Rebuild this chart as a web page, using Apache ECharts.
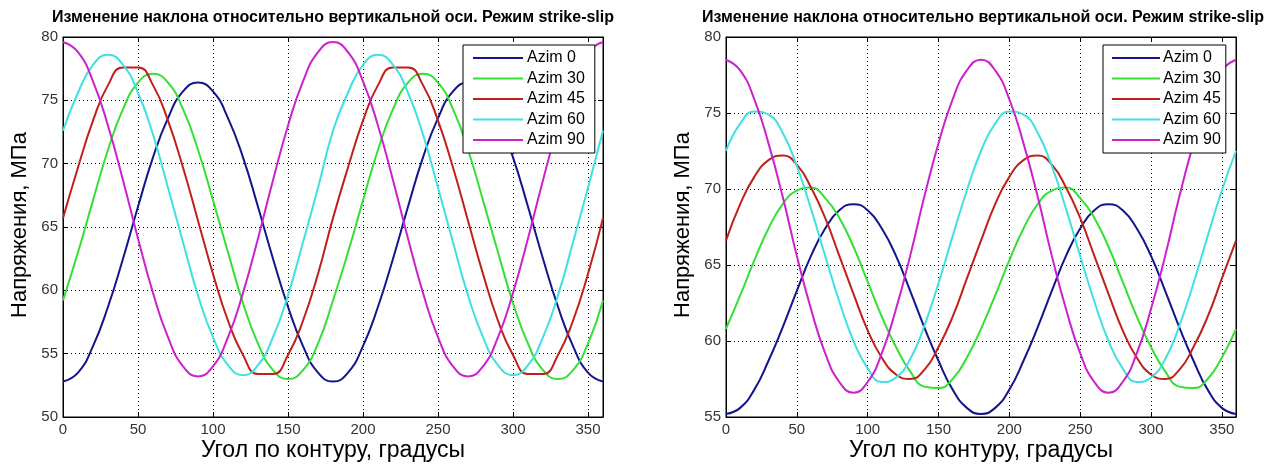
<!DOCTYPE html>
<html>
<head>
<meta charset="utf-8">
<script src="https://cdn.jsdelivr.net/npm/echarts@6/dist/echarts.min.js"></script>
<style>
  html, body { margin: 0; padding: 0; background: #fff; }
  #chart { width: 1268px; height: 464px; }
</style>
</head>
<body>
<div id="chart"></div>
<script>
// Angle along the borehole contour, degrees
const angles = [0,10,20,30,40,50,60,70,80,90,100,110,120,130,140,150,160,170,180,
  190,200,210,220,230,240,250,260,270,280,290,300,310,320,330,340,350,360];

const seriesNames = ['Azim 0', 'Azim 30', 'Azim 45', 'Azim 60', 'Azim 90'];
const seriesColors = ['#14148c', '#33e033', '#c0201c', '#40e0e0', '#cc22cc'];

// Left panel, stress in MPa
const leftAzim0  = [52.8,53.5,55.6,58.7,62.5,66.6,70.5,73.6,75.7,76.4,75.7,73.6,70.5,66.6,62.5,58.7,55.6,53.5,52.8,
  53.5,55.6,58.7,62.5,66.6,70.5,73.6,75.7,76.4,75.7,73.6,70.5,66.6,62.5,58.7,55.6,53.5,52.8];
const leftAzim30 = [59.2,63.0,67.1,71.1,74.3,76.4,77.1,76.4,74.3,71.1,67.1,63.0,59.0,55.8,53.7,53.0,53.7,55.8,59.2,
  63.0,67.1,71.1,74.3,76.4,77.1,76.4,74.3,71.1,67.1,63.0,59.0,55.8,53.7,53.0,53.7,55.8,59.2];
const leftAzim45 = [65.7,69.7,73.4,76.2,77.6,77.6,76.2,73.4,69.7,65.5,61.3,57.6,54.9,53.4,53.4,54.9,57.6,61.3,65.7,
  69.7,73.4,76.2,77.6,77.6,76.2,73.4,69.7,65.5,61.3,57.6,54.9,53.4,53.4,54.9,57.6,61.3,65.7];
const leftAzim60 = [72.6,75.6,77.8,78.6,77.8,75.6,72.3,68.1,63.8,59.6,56.3,54.1,53.3,54.1,56.3,59.6,63.8,68.1,72.6,
  75.6,77.8,78.6,77.8,75.6,72.3,68.1,63.8,59.6,56.3,54.1,53.3,54.1,56.3,59.6,63.8,68.1,72.6];
const leftAzim90 = [79.6,78.8,76.5,73.0,68.7,64.1,59.8,56.3,54.0,53.2,54.0,56.3,59.8,64.1,68.7,73.0,76.5,78.8,79.6,
  78.8,76.5,73.0,68.7,64.1,59.8,56.3,54.0,53.2,54.0,56.3,59.8,64.1,68.7,73.0,76.5,78.8,79.6];

// Right panel, stress in MPa
const rightAzim0  = [55.2,55.6,56.8,58.7,60.9,63.3,65.6,67.4,68.6,69.0,68.6,67.4,65.6,63.3,60.9,58.7,56.8,55.6,55.2,
  55.6,56.8,58.7,60.9,63.3,65.6,67.4,68.6,69.0,68.6,67.4,65.6,63.3,60.9,58.7,56.8,55.6,55.2];
const rightAzim30 = [60.8,63.0,65.3,67.4,69.0,69.9,70.1,69.4,68.1,66.2,63.9,61.6,59.6,58.0,57.0,56.9,57.5,58.9,60.8,
  63.0,65.3,67.4,69.0,69.9,70.1,69.4,68.1,66.2,63.9,61.6,59.6,58.0,57.0,56.9,57.5,58.9,60.8];
const rightAzim45 = [66.6,69.0,70.8,71.9,72.2,71.6,70.1,68.1,65.6,63.1,60.7,58.9,57.8,57.5,58.1,59.6,61.6,64.1,66.6,
  69.0,70.8,71.9,72.2,71.6,70.1,68.1,65.6,63.1,60.7,58.9,57.8,57.5,58.1,59.6,61.6,64.1,66.6];
const rightAzim60 = [72.5,74.3,75.1,74.9,73.7,71.5,68.7,65.6,62.6,60.0,58.2,57.3,57.6,58.8,61.0,63.8,66.9,69.9,72.5,
  74.3,75.1,74.9,73.7,71.5,68.7,65.6,62.6,60.0,58.2,57.3,57.6,58.8,61.0,63.8,66.9,69.9,72.5];
const rightAzim90 = [78.5,77.8,75.9,73.0,69.5,65.6,62.1,59.2,57.3,56.6,57.3,59.2,62.1,65.6,69.5,73.0,75.9,77.8,78.5,
  77.8,75.9,73.0,69.5,65.6,62.1,59.2,57.3,56.6,57.3,59.2,62.1,65.6,69.5,73.0,75.9,77.8,78.5];

const titleText = 'Изменение наклона относительно вертикальной оси. Режим strike-slip';
const xTitle = 'Угол по контуру, градусы';
const yTitle = 'Напряжения, МПа';

const panels = [
  { grid: { left: 63, top: 37, width: 540, height: 380 }, yMin: 50, yMax: 80, titleX: 333,
    values: [leftAzim0, leftAzim30, leftAzim45, leftAzim60, leftAzim90],
    legend: { left: 463, top: 45, padding: [5, 10, 5, 10], itemWidth: 50, textPad: -1 } },
  { grid: { left: 726, top: 37, width: 510, height: 380 }, yMin: 55, yMax: 80, titleX: 983,
    values: [rightAzim0, rightAzim30, rightAzim45, rightAzim60, rightAzim90],
    legend: { left: 1103, top: 45, padding: [5, 5, 5, 9], itemWidth: 48, textPad: -2 } }
];

const FONT = '"Liberation Sans", Arial, sans-serif';
const dotted = { color: '#000', width: 1, type: [1, 3] };

const grids = [], xAxes = [], yAxes = [], series = [], legends = [], graphics = [];

panels.forEach((p, gi) => {
  grids.push(Object.assign({ show: true, borderColor: '#000', borderWidth: 1,
    backgroundColor: '#fff', containLabel: false }, p.grid));

  const xBase = { type: 'value', gridIndex: gi, min: 0, max: 360, interval: 50 };
  const yBase = { type: 'value', gridIndex: gi, min: p.yMin, max: p.yMax, interval: 5 };
  const line = { show: true, onZero: false, lineStyle: { color: '#000', width: 1 } };
  const tick = { show: true, inside: true, length: 5, lineStyle: { color: '#000' } };

  // bottom / left axes with labels and dotted grid
  xAxes.push(Object.assign({}, xBase, {
    position: 'bottom', axisLine: line, axisTick: tick,
    axisLabel: { color: '#333', fontSize: 15, fontFamily: FONT, margin: 5, showMaxLabel: false },
    splitLine: { show: true, lineStyle: dotted }
  }));
  yAxes.push(Object.assign({}, yBase, {
    position: 'left', axisLine: line, axisTick: tick,
    axisLabel: { color: '#333', fontSize: 15, fontFamily: FONT, margin: 5 },
    splitLine: { show: true, lineStyle: dotted }
  }));
  // top / right axes: tick marks only
  xAxes.push(Object.assign({}, xBase, {
    position: 'top', axisLine: line, axisTick: tick,
    axisLabel: { show: false }, splitLine: { show: false }
  }));
  yAxes.push(Object.assign({}, yBase, {
    position: 'right', axisLine: line, axisTick: tick,
    axisLabel: { show: false }, splitLine: { show: false }
  }));

  seriesNames.forEach((name, si) => {
    series.push({
      name: name, type: 'line', xAxisIndex: gi * 2, yAxisIndex: gi * 2,
      data: angles.map((a, k) => [a, p.values[si][k]]),
      smooth: 0.5, symbol: 'none', showSymbol: false, silent: true,
      color: seriesColors[si],
      lineStyle: { color: seriesColors[si], width: 2 },
      z: 3 + si
    });
  });

  const lg = p.legend;
  legends.push({
    orient: 'vertical', left: lg.left, top: lg.top,
    data: seriesNames, icon: 'rect', backgroundColor: '#fff', borderColor: '#000', borderWidth: 1,
    borderRadius: 0, padding: lg.padding, itemWidth: lg.itemWidth, itemHeight: 2, itemGap: 4.5,
    textStyle: { fontSize: 16, lineHeight: 16, color: '#000', fontFamily: FONT, padding: [0, 0, 0, lg.textPad] },
    z: 10, selectedMode: false
  });

  const cy = p.grid.top + p.grid.height / 2;
  const cx = p.grid.left + p.grid.width / 2;
  graphics.push({
    type: 'text', x: p.titleX, y: 18, z: 20,
    style: { text: titleText, fill: '#000', font: 'bold 16px ' + FONT, align: 'center', verticalAlign: 'middle' }
  });
  graphics.push({
    type: 'text', x: cx, y: 451, z: 20,
    style: { text: xTitle, fill: '#000', font: '23px ' + FONT, align: 'center', verticalAlign: 'middle' }
  });
  graphics.push({
    type: 'text', x: p.grid.left - 43, y: cy - 2, rotation: Math.PI / 2, z: 20,
    style: { text: yTitle, fill: '#000', font: '22px ' + FONT, align: 'center', verticalAlign: 'middle' }
  });
});

const chart = echarts.init(document.getElementById('chart'), null, { renderer: 'canvas' });
chart.setOption({
  backgroundColor: '#fff',
  animation: false,
  grid: grids,
  xAxis: xAxes,
  yAxis: yAxes,
  legend: legends,
  series: series,
  graphic: graphics
});
</script>
</body>
</html>
